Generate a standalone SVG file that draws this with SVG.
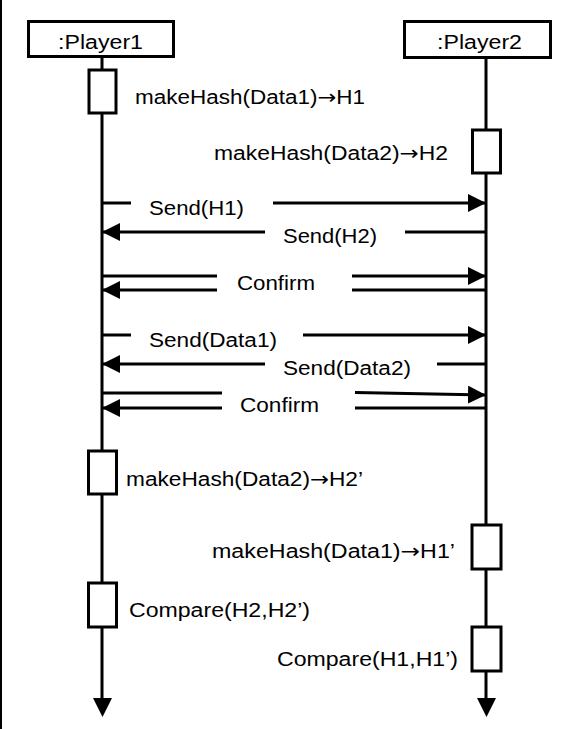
<svg xmlns="http://www.w3.org/2000/svg" width="573" height="729" viewBox="0 0 573 729">
<style>
.t{font-family:"Liberation Sans","Noto Sans CJK JP",sans-serif;font-size:20px;fill:#000}
.ar{font-family:"DejaVu Sans",sans-serif}
.ln{stroke:#000;stroke-width:3;fill:none}
.box{stroke:#000;stroke-width:3;fill:#fff}
</style>
<defs>
<marker id="ah" markerUnits="userSpaceOnUse" markerWidth="18" markerHeight="18" viewBox="0 0 16 16" refX="16" refY="8" orient="auto">
<path d="M0,0 L16,8 L0,16 Z" fill="#000"/>
</marker>
</defs>
<rect width="573" height="729" fill="#fff"/>
<line x1="1" y1="0" x2="1" y2="729" stroke="#000" stroke-width="2"/>
<g id="player1">
<line class="ln" x1="102" y1="57" x2="102" y2="700"/>
<path d="M93,698 L112,698 L102.5,717 Z" fill="#000"/>
<rect class="box" x="28.5" y="21.5" width="145" height="35"/>
<text class="t" x="58" y="48.5" textLength="85" lengthAdjust="spacingAndGlyphs">:Player1</text>
</g>
<g id="player2">
<line class="ln" x1="486" y1="57" x2="486" y2="700"/>
<path d="M477,698 L496,698 L486.5,717 Z" fill="#000"/>
<rect class="box" x="404.5" y="21.5" width="146" height="36"/>
<text class="t" x="437" y="48.5" textLength="85" lengthAdjust="spacingAndGlyphs">:Player2</text>
</g>
<g id="act1">
<rect class="box" x="89" y="70" width="27" height="43"/>
<text class="t" x="135" y="104" textLength="230" lengthAdjust="spacingAndGlyphs">makeHash(Data1)<tspan class="ar">→</tspan>H1</text>
</g>
<g id="act2">
<rect class="box" x="472.5" y="130" width="28" height="43"/>
<text class="t" x="214" y="160" textLength="234" lengthAdjust="spacingAndGlyphs">makeHash(Data2)<tspan class="ar">→</tspan>H2</text>
</g>
<g id="act3">
<rect class="box" x="88.5" y="451" width="28" height="43"/>
<text class="t" x="126" y="486" textLength="237" lengthAdjust="spacingAndGlyphs">makeHash(Data2)<tspan class="ar">→</tspan>H2’</text>
</g>
<g id="act4">
<rect class="box" x="472" y="525" width="29" height="44"/>
<text class="t" x="212" y="558" textLength="243" lengthAdjust="spacingAndGlyphs">makeHash(Data1)<tspan class="ar">→</tspan>H1’</text>
</g>
<g id="act5">
<rect class="box" x="88.5" y="583" width="28" height="44"/>
<text class="t" x="129" y="617" textLength="181" lengthAdjust="spacingAndGlyphs">Compare(H2,H2’)</text>
</g>
<g id="act6">
<rect class="box" x="472" y="627" width="29" height="44"/>
<text class="t" x="277" y="666" textLength="181" lengthAdjust="spacingAndGlyphs">Compare(H1,H1’)</text>
</g>
<g id="connectors">
<line class="ln" x1="102" y1="203" x2="131" y2="203"/>
<line class="ln" x1="273" y1="203" x2="486" y2="203" marker-end="url(#ah)"/>
<text class="t" x="149" y="215" textLength="95" lengthAdjust="spacingAndGlyphs">Send(H1)</text>
<line class="ln" x1="486" y1="232" x2="405" y2="232"/>
<line class="ln" x1="265" y1="232" x2="102" y2="232" marker-end="url(#ah)"/>
<text class="t" x="283" y="243" textLength="94" lengthAdjust="spacingAndGlyphs">Send(H2)</text>
<line class="ln" x1="102" y1="276" x2="217" y2="276"/>
<line class="ln" x1="352" y1="276" x2="486" y2="276" marker-end="url(#ah)"/>
<line class="ln" x1="486" y1="290" x2="352" y2="290"/>
<line class="ln" x1="217" y1="290" x2="102" y2="290" marker-end="url(#ah)"/>
<text class="t" x="237" y="290" textLength="78" lengthAdjust="spacingAndGlyphs">Confirm</text>
<line class="ln" x1="102" y1="335" x2="131" y2="335"/>
<line class="ln" x1="303" y1="335" x2="486" y2="335" marker-end="url(#ah)"/>
<text class="t" x="149" y="347" textLength="128" lengthAdjust="spacingAndGlyphs">Send(Data1)</text>
<line class="ln" x1="486" y1="364" x2="437" y2="364"/>
<line class="ln" x1="265" y1="364" x2="102" y2="364" marker-end="url(#ah)"/>
<text class="t" x="283" y="375" textLength="128" lengthAdjust="spacingAndGlyphs">Send(Data2)</text>
<line class="ln" x1="102" y1="393" x2="222" y2="393"/>
<line class="ln" x1="355" y1="392.5" x2="486" y2="395" marker-end="url(#ah)"/>
<line class="ln" x1="486" y1="408" x2="355" y2="408"/>
<line class="ln" x1="222" y1="408" x2="102" y2="408" marker-end="url(#ah)"/>
<text class="t" x="240" y="412" textLength="79" lengthAdjust="spacingAndGlyphs">Confirm</text>
</g>
</svg>
